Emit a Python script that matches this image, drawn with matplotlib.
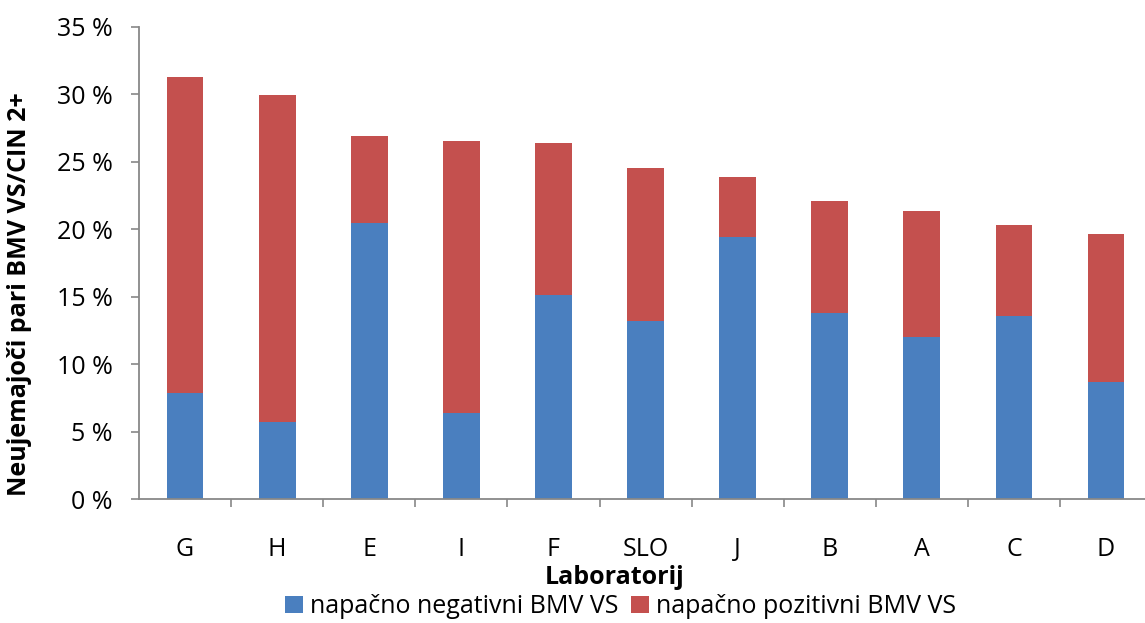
import matplotlib.pyplot as plt
from matplotlib.ticker import FuncFormatter, FixedLocator
import numpy as np

plt.rcParams['font.family'] = ['Open Sans', 'DejaVu Sans']

labs = ["G", "H", "E", "I", "F", "SLO", "J", "B", "A", "C", "D"]
neg = [7.9, 5.75, 20.45, 6.4, 15.15, 13.2, 19.4, 13.8, 12.0, 13.6, 8.7]
tot = [31.3, 29.95, 26.9, 26.55, 26.4, 24.55, 23.9, 22.1, 21.35, 20.3, 19.65]
pos = [t - n for t, n in zip(tot, neg)]

blue = "#4A7FBF"
red = "#C4504E"

fig = plt.figure(figsize=(11.45, 6.23), dpi=100)
ax = fig.add_axes([0.1214, 0.1986, 0.8848, 0.7584])

x = np.arange(len(labs))
ax.bar(x, neg, width=0.4, color=blue, label="napačno negativni BMV VS")
ax.bar(x, pos, bottom=neg, width=0.4, color=red, label="napačno pozitivni BMV VS")

ax.set_xlim(-0.5, len(labs) - 0.5)
ax.set_ylim(0, 35)
ax.set_yticks(np.arange(0, 36, 5))
ax.yaxis.set_major_formatter(FuncFormatter(lambda v, p: f"{v:.0f} %"))

ax.set_xticks(x)
ax.set_xticklabels(labs)
ax.tick_params(axis="x", which="major", length=0, pad=27, labelsize=18)
# category separators on the x axis
ax.xaxis.set_minor_locator(FixedLocator(np.arange(0.5, len(labs) - 0.5, 1)))
ax.tick_params(axis="x", which="minor", length=6, width=1.2, color="#888888", direction="out")
ax.tick_params(axis="y", length=6, width=1.2, color="#888888", labelsize=18, pad=13)

for s in ["top", "right"]:
    ax.spines[s].set_visible(False)
for s in ["left", "bottom"]:
    ax.spines[s].set_color("#888888")
    ax.spines[s].set_linewidth(1.3)

ax.set_xlabel("Laboratorij", fontsize=18, fontweight="bold", va="center")
ax.xaxis.set_label_coords(0.469, -0.1666)
ax.set_ylabel("Neujemajoči pari BMV VS/CIN 2+", fontsize=18, fontweight="bold", va="center")
ax.yaxis.set_label_coords(-0.1175, 0.4345)

fig.legend(loc="center", bbox_to_anchor=(0.542, 0.026), ncol=2, frameon=False,
           fontsize=18, handlelength=0.7, handleheight=0.7, handletextpad=0.3, columnspacing=0.5)

fig.savefig("out.png", dpi=100)
